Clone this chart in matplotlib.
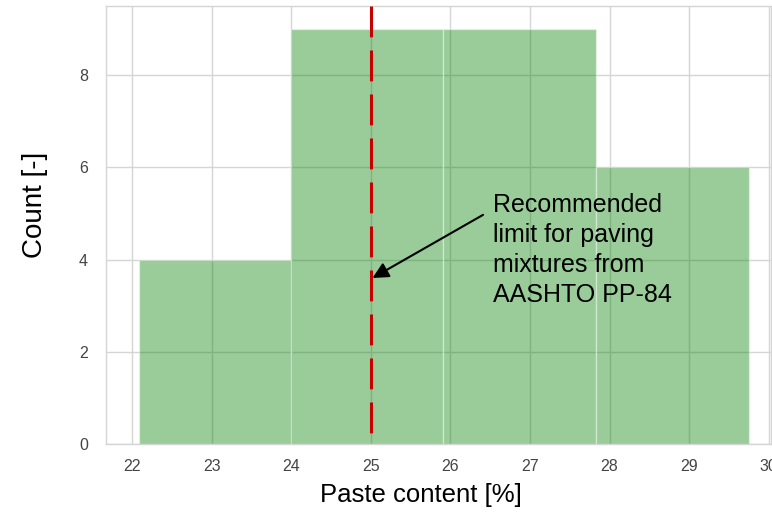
import numpy as np
import matplotlib
matplotlib.use('Agg')
import matplotlib.pyplot as plt
from matplotlib import font_manager

# histogram
bin_edges = [22.08, 24.0, 25.91, 27.83, 29.75]
counts = [4, 9, 9, 6]
limit = 25.0

names = {f.name for f in font_manager.fontManager.ttflist}
fam = 'Liberation Sans Narrow' if 'Liberation Sans Narrow' in names else 'Liberation Sans'
plt.rcParams['font.family'] = [fam, 'DejaVu Sans']

fig = plt.figure(figsize=(7.72, 5.12), dpi=100)
ax = fig.add_axes([106/772, 68/512, 665/772, 438/512])

ax.set_axisbelow(True)
ax.grid(True, color='#d5d5d5', lw=1.0)
for sp in ax.spines.values():
    sp.set_color('#d5d5d5')
    sp.set_linewidth(1.0)

ax.hist(bin_edges[:-1], bins=bin_edges, weights=counts,
        color='green', alpha=0.4, edgecolor='white', linewidth=1.0)

ymax = 9.5
ax.plot([limit, limit], [ymax, 0], color='#c80000', lw=2.2,
        ls=(0, (10.1, 4.3)), zorder=5)

ax.annotate('', xy=(limit + 0.02, 3.6), xytext=(26.41, 4.97),
            arrowprops=dict(arrowstyle='-|>', color='black', lw=1.5,
                            mutation_scale=24, shrinkA=0, shrinkB=0),
            zorder=6)
ax.text(26.53, 4.2, 'Recommended\nlimit for paving\nmixtures from\nAASHTO PP-84',
        fontsize=18, va='center', ha='left', linespacing=1.32)

ax.set_xlim(21.67, 30.03)
ax.set_ylim(0, ymax)
ax.set_xticks(np.arange(22, 31, 1))
ax.set_yticks([0, 2, 4, 6, 8])
ax.tick_params(axis='x', length=0, labelsize=11.5, labelcolor='#444444', pad=11)
ax.tick_params(axis='y', length=0, labelsize=11.5, labelcolor='#444444', pad=13)

ax.set_xlabel('Paste content [%]', fontsize=18.5)
ax.xaxis.set_label_coords(0.474, -0.089)
ax.set_ylabel('Count [-]', fontsize=20)
ax.yaxis.set_label_coords(-0.087, 0.545)

fig.savefig('out.png', dpi=100)
